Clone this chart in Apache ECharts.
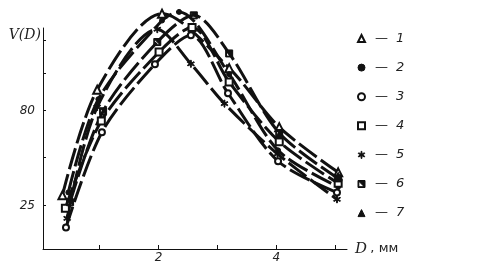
<!DOCTYPE html>
<html><head><meta charset="utf-8">
<script src="https://cdn.jsdelivr.net/npm/echarts@6/dist/echarts.min.js"></script>
<style>html,body{margin:0;padding:0;background:#fff}#c{width:490px;height:264px}</style>
</head><body><div id="c"></div>
<script>
// Tick marks and labels
const xTickValues = [1, 2, 3, 4, 5];
const xLabelValues = [2, 4];
const yTickValues = [25, 53, 80, 101.5, 120.5];
const yLabelValues = [25, 80];
const seriesNames = ['1', '2', '3', '4', '5', '6', '7'];
// Series values [D, V(D)]
const s1 = [[0.37,31],[0.96,92],[2.06,136],[3.2,104.5],[4.05,70.4],[5.05,44.3]];
const s2 = [[0.47,32.7],[0.98,86.6],[2.06,132],[2.35,137],[3.2,101],[4.03,57],[5.05,36]];
const s3 = [[0.43,12.4],[1.04,67.5],[1.94,106.8],[2.55,123.5],[3.18,90],[4.03,50.7],[5.03,32.7]];
const s4 = [[0.42,23.5],[1.03,74],[2.01,113.8],[2.57,128],[3.2,96.5],[4.05,62],[5.05,38]];
const s5 = [[0.45,17.7],[0.96,82],[1.98,127],[2.55,107],[3.12,84],[4.02,55],[5.03,28.7]];
const s6 = [[0.5,27],[1.06,79.6],[1.98,119.6],[2.6,135],[3.2,113],[4.05,67],[5.05,40.8]];
const s7 = [[4.05,66],[5.05,42]];

const INK = '#111';
const STAR = 'path://M4.4,0H5.6V10H4.4Z M1.05,1.95L9.65,6.95L9.05,8.05L0.35,3.05Z M0.35,6.95L9.05,1.95L9.65,3.05L1.05,8.05Z';
const HALFSQ = 'path://M0,0H10V10H0Z M1.2,1.2V8.8H8.8V1.2Z M1.2,1.2H8.8V8.8Z';
const symbols = ['emptyTriangle', 'circle', 'emptyCircle', 'emptyRect', STAR, HALFSQ, 'triangle'];
const sizes = [8, 5, 6, 7, 7, 7, 8];
const datasets = [s1, s2, s3, s4, s5, s6, s7];

const chart = echarts.init(document.getElementById('c'), null, {renderer: 'canvas'});
const series = datasets.map((d, i) => ({
  name: seriesNames[i],
  type: 'line',
  data: d,
  smooth: 0.3,
  clip: false,
  symbol: symbols[i],
  symbolSize: sizes[i],
  showAllSymbol: true,
  z: 3,
  itemStyle: {color: INK, borderColor: INK, borderWidth: 1},
  lineStyle: i === 6 ? {width: 0, opacity: 0} : {color: INK, width: 3, type: [22, 5]},
  emphasis: {disabled: true}
}));

chart.setOption({
  backgroundColor: '#fff',
  animation: false,
  grid: {left: 43, right: 143, top: 28, bottom: 15},
  xAxis: {
    type: 'value', min: 0.04, max: 5.2,
    name: '{d|D} {r|, мм}', nameLocation: 'end', nameGap: 8,
    nameTextStyle: {verticalAlign: 'middle', rich: {
      d: {fontFamily: 'DejaVu Serif', fontStyle: 'italic', fontSize: 15, color: '#222'},
      r: {fontFamily: 'DejaVu Sans', fontSize: 13, color: '#222'}
    }},
    axisLine: {lineStyle: {color: INK, width: 1}},
    axisTick: {show: true, inside: true, length: 4, customValues: xTickValues, lineStyle: {color: INK}},
    axisLabel: {customValues: xLabelValues, margin: 3, color: '#222', fontSize: 12, fontStyle: 'italic', fontFamily: 'DejaVu Sans'},
    splitLine: {show: false}
  },
  yAxis: {
    type: 'value', min: 0, max: 127.7,
    name: 'V(D)', nameLocation: 'end', nameGap: -7,
    nameTextStyle: {align: 'right', verticalAlign: 'middle', padding: [0, 2, 0, 0], fontFamily: 'DejaVu Serif', fontStyle: 'italic', fontSize: 14, color: '#222'},
    axisLine: {show: true, lineStyle: {color: INK, width: 1}},
    axisTick: {show: true, inside: true, length: 3, customValues: yTickValues, lineStyle: {color: INK}},
    axisLabel: {customValues: yLabelValues, margin: 8, color: '#222', fontSize: 12, fontStyle: 'italic', fontFamily: 'DejaVu Sans'},
    splitLine: {show: false}
  },
  legend: {
    orient: 'vertical', left: 352, top: 27,
    itemWidth: 7, itemHeight: 7, itemGap: 16.1,
    data: seriesNames.map((n, i) => ({name: n, icon: symbols[i]})),
    itemStyle: {color: INK, borderColor: INK, borderWidth: 1},
    formatter: n => '{d|—}{n|' + n + '}',
    textStyle: {rich: {
      d: {fontSize: 13, color: '#222', fontFamily: 'DejaVu Sans', padding: [0, 0, 0, 5]},
      n: {fontSize: 13, color: '#222', fontStyle: 'italic', fontFamily: 'DejaVu Sans', padding: [0, 0, 0, 8]}
    }},
    selectedMode: false
  },
  series: series
});
</script></body></html>
